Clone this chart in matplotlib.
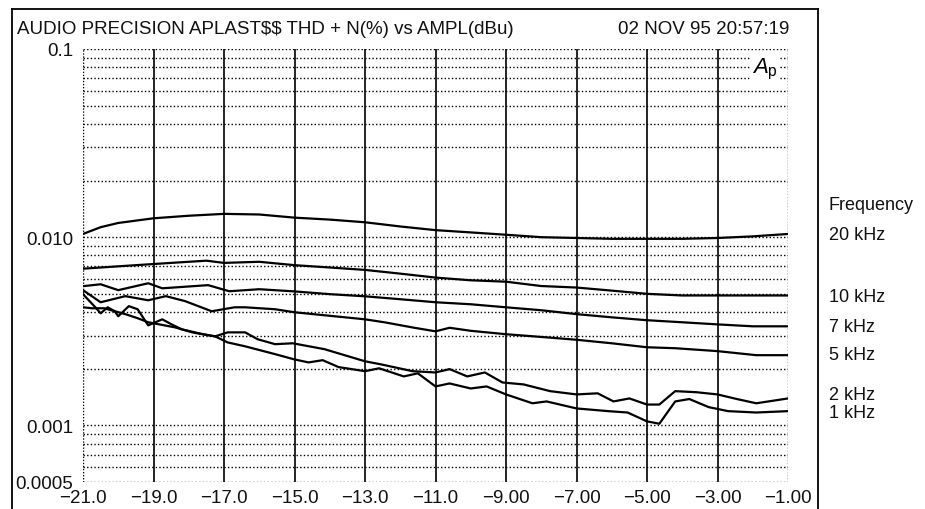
import matplotlib
matplotlib.use('Agg')
import matplotlib.pyplot as plt
from matplotlib.lines import Line2D
from matplotlib.ticker import FixedLocator, NullFormatter

plt.rcParams['font.family'] = ['Liberation Sans', 'DejaVu Sans']
plt.rcParams['mathtext.fontset'] = 'custom'
plt.rcParams['mathtext.rm'] = 'Liberation Sans'
plt.rcParams['mathtext.it'] = 'Liberation Sans:italic'

# amplitude (dBu) vs THD+N (%), one series per frequency
x_20k = [-21, -20.5, -20, -19, -18, -17, -16, -15, -14, -13, -12, -11, -10,
         -9, -8, -7, -6, -5, -4, -3, -2, -1]
thd_20k = [0.0104, 0.0113, 0.0119, 0.0126, 0.0130, 0.0133, 0.0132, 0.0127,
           0.0124, 0.0120, 0.0114, 0.0109, 0.0106, 0.0103, 0.0100, 0.0099,
           0.0098, 0.0098, 0.0098, 0.0099, 0.0101, 0.0104]

x_10k = [-21, -20, -19, -18, -17.5, -17, -16, -15, -14, -13, -12, -11, -10,
         -9, -8, -7, -6, -5, -4, -3, -2, -1]
thd_10k = [0.0068, 0.0070, 0.0072, 0.0074, 0.0075, 0.0073, 0.0074, 0.0071,
           0.0069, 0.0067, 0.0064, 0.0061, 0.0059, 0.0058, 0.0055, 0.0054,
           0.0052, 0.0050, 0.0049, 0.0049, 0.0049, 0.0049]

x_7k = [-21, -20.5, -20, -19.15, -18.75, -17.45, -16.85, -16, -15, -14, -13,
        -12, -11, -10, -9, -8, -7, -6, -5, -4, -3, -2, -1]
thd_7k = [0.00549, 0.00562, 0.00523, 0.00569, 0.00535, 0.00556, 0.00516,
          0.00529, 0.00515, 0.00498, 0.00485, 0.00468, 0.00451, 0.00440,
          0.00424, 0.00409, 0.00390, 0.00375, 0.00362, 0.00353, 0.00344,
          0.00336, 0.00336]

x_5k = [-21, -20.5, -19.8, -19.15, -18.65, -18.1, -17.35, -16.7, -16.4, -15.55,
        -15, -13, -12.45, -11.6, -11, -10.6, -10, -9, -8, -7, -6, -5, -4.2,
        -3, -1.9, -1]
thd_5k = [0.00523, 0.00451, 0.00486, 0.00462, 0.00486, 0.00457, 0.00404,
          0.00424, 0.00424, 0.00414, 0.00399, 0.00366, 0.00353, 0.00330,
          0.00316, 0.00330, 0.00318, 0.00305, 0.00295, 0.00285, 0.00273,
          0.00260, 0.00257, 0.00248, 0.00236, 0.00236]

x_2k = [-21, -20.65, -20.5, -20.3, -20.1, -20, -19.7, -19.45, -19.15, -18.75,
        -18.5, -18.2, -17.6, -17.25, -16.9, -16.4, -16.05, -15.55, -15.05,
        -14.15, -13, -12.55, -11.65, -11, -10.6, -10.1, -9.6, -9.1, -8.5,
        -7.75, -7, -6.4, -5.95, -5.5, -5, -4.65, -4.2, -3.6, -3, -2.45, -1.9, -1]
thd_2k = [0.00498, 0.00424, 0.00394, 0.00424, 0.00404, 0.00380, 0.00430,
          0.00414, 0.00340, 0.00366, 0.00345, 0.00324, 0.00305, 0.00297,
          0.00312, 0.00312, 0.00287, 0.00270, 0.00273, 0.00254, 0.00219,
          0.00211, 0.00194, 0.00191, 0.00199, 0.00182, 0.00191, 0.00169,
          0.00165, 0.00152, 0.00146, 0.00148, 0.00134, 0.00139, 0.00129,
          0.00129, 0.00152, 0.00150, 0.00146, 0.00138, 0.00131, 0.00139]

x_1k = [-21, -20.75, -20.4, -19.8, -19.45, -19.15, -18.4, -17.9, -17.25, -16.9,
        -16.4, -15.55, -15, -14.6, -14.2, -13.75, -13, -12.6, -11.9, -11.5,
        -11, -10.6, -10, -9.55, -9, -8.25, -7.85, -7, -6.1, -5.55, -5, -4.65,
        -4.2, -3.8, -3.25, -2.7, -1.9, -1]
thd_1k = [0.00424, 0.00419, 0.00419, 0.00390, 0.00371, 0.00353, 0.00332,
          0.00312, 0.00297, 0.00276, 0.00263, 0.00239, 0.00224, 0.00216,
          0.00222, 0.00204, 0.00194, 0.00201, 0.00182, 0.00189, 0.00161,
          0.00167, 0.00157, 0.00161, 0.00146, 0.00131, 0.00134, 0.00123,
          0.00119, 0.00117, 0.00105, 0.00102, 0.00134, 0.00138, 0.00125,
          0.00119, 0.00117, 0.00119]

x_ticks = [-21, -19, -17, -15, -13, -11, -9, -7, -5, -3, -1]
x_ticklabels = ['\u221221.0', '\u221219.0', '\u221217.0', '\u221215.0', '\u221213.0',
                '\u221211.0', '\u22129.00', '\u22127.00', '\u22125.00', '\u22123.00',
                '\u22121.00']
y_ticks = [0.1, 0.01, 0.001, 0.0005]
y_ticklabels = ['0.1', '0.010', '0.001', '0.0005']
y_grid = [0.0005, 0.0006, 0.0007, 0.0008, 0.0009,
          0.001, 0.002, 0.003, 0.004, 0.005, 0.006, 0.007, 0.008, 0.009,
          0.01, 0.02, 0.03, 0.04, 0.05, 0.06, 0.07, 0.08, 0.09, 0.1]

legend_labels = ['Frequency', '20 kHz', '10 kHz', '7 kHz', '5 kHz', '2 kHz', '1 kHz']
legend_y_px = [205, 236, 297, 327, 356, 395, 414]

FS = 13.5
W, H = 925, 510
fig = plt.figure(figsize=(W / 100, H / 100), dpi=100)
ax = fig.add_axes([83 / W, 1 - 483 / H, (788 - 83) / W, (483 - 50) / H])

ax.set_yscale('log')
ax.set_xlim(-21, -1)
ax.set_ylim(0.0005, 0.1)

# grid: dotted horizontals, solid verticals (dotted at the edges)
for v in y_grid:
    ax.axhline(v, color='black', lw=1.0, ls=(0, (1, 1.6)), zorder=1)
for xv in x_ticks:
    if xv in (-21, -1):
        ax.axvline(xv, color='black', lw=1.0, ls=(0, (1, 1.2)), zorder=1)
    else:
        ax.axvline(xv, color='black', lw=1.2, zorder=1)

for xs, ys in [(x_20k, thd_20k), (x_10k, thd_10k), (x_7k, thd_7k),
               (x_5k, thd_5k), (x_2k, thd_2k), (x_1k, thd_1k)]:
    ax.plot(xs, ys, color='black', lw=1.6, zorder=3)

for s in ax.spines.values():
    s.set_visible(False)

ax.xaxis.set_major_locator(FixedLocator(x_ticks))
ax.set_xticklabels(x_ticklabels)
ax.yaxis.set_major_locator(FixedLocator(y_ticks))
ax.yaxis.set_minor_locator(FixedLocator([]))
ax.yaxis.set_minor_formatter(NullFormatter())
ax.set_yticklabels(y_ticklabels)
ax.tick_params(length=0, labelsize=FS, colors='#111111')
ax.tick_params(axis='x', pad=5)
ax.tick_params(axis='y', pad=7)

ax.text(0.986, 0.985, r'$\mathit{A}_{\mathrm{p}}$', transform=ax.transAxes,
        ha='right', va='top', fontsize=16, zorder=4,
        bbox=dict(facecolor='white', edgecolor='none', pad=1))

# outer frame (open at the bottom)
fl, fr, ft = 12 / W, 818 / W, 1 - 10 / H
fig.add_artist(Line2D([fl, fl], [0, ft], color='black', lw=1.3))
fig.add_artist(Line2D([fr, fr], [0, ft], color='black', lw=1.3))
fig.add_artist(Line2D([fl, fr], [ft, ft], color='black', lw=1.3))

fig.text(17 / W, 1 - 30 / H, 'AUDIO PRECISION APLAST$$ THD + N(%) vs AMPL(dBu)',
         ha='left', va='center', fontsize=FS, color='#111111', parse_math=False)
fig.text(789 / W, 1 - 30 / H, '02 NOV 95 20:57:19',
         ha='right', va='center', fontsize=FS, color='#111111')

for lab, yp in zip(legend_labels, legend_y_px):
    fig.text(829 / W, 1 - yp / H, lab, ha='left', va='center',
             fontsize=13, color='#111111')

fig.savefig('out.png', dpi=100, facecolor='white')
